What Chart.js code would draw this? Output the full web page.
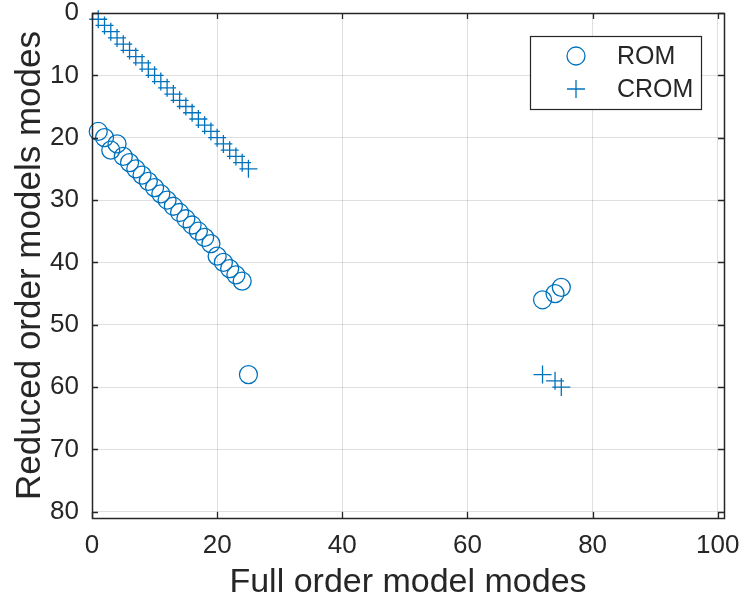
<!DOCTYPE html>
<html>
<head>
<meta charset="utf-8">
<script src="https://cdn.jsdelivr.net/npm/chart.js@4/dist/chart.umd.min.js"></script>
<style>
  html, body { margin: 0; padding: 0; background: #ffffff; }
  #wrap { width: 740px; height: 607px; }
</style>
</head>
<body>
<div id="wrap"><canvas id="c" width="740" height="607"></canvas></div>
<script>
// Mode indices: full order model (x) vs reduced order model (y)
const romX = [1, 2, 3, 4, 5, 6, 7, 8, 9, 10, 11, 12, 13, 14, 15, 16, 17, 18, 19, 20, 21, 22, 23, 24, 25, 72, 74, 75];
const romY = [19, 20, 22, 21, 23, 24, 25, 26, 27, 28, 29, 30, 31, 32, 33, 34, 35, 36, 37, 39, 40, 41, 42, 43, 58, 46, 45, 44];
const cromX = [1, 2, 3, 4, 5, 6, 7, 8, 9, 10, 11, 12, 13, 14, 15, 16, 17, 18, 19, 20, 21, 22, 23, 24, 25, 72, 74, 75];
const cromY = [1, 2, 3, 4, 5, 6, 7, 8, 9, 10, 11, 12, 13, 14, 15, 16, 17, 18, 19, 20, 21, 22, 23, 24, 25, 58, 59, 60];
const seriesNames = ['ROM', 'CROM'];
const xTicks = [0, 20, 40, 60, 80, 100];
const yTicks = [0, 10, 20, 30, 40, 50, 60, 70, 80];

const BLUE = '#0072BD';
const INK = '#262626';
const FONT = '"Liberation Sans", Arial, Helvetica, sans-serif';

const toPoints = (xs, ys) => xs.map((x, i) => ({ x: x, y: ys[i] }));

// Box around the axes with inward tick marks on all four sides
const framePlugin = {
  id: 'frame',
  afterDatasetsDraw(chart) {
    const { ctx, chartArea: a, scales } = chart;
    const len = 6;
    ctx.save();
    ctx.strokeStyle = INK;
    ctx.lineWidth = 1.3;
    ctx.beginPath();
    scales.x.ticks.forEach(t => {
      const px = Math.round(scales.x.getPixelForValue(t.value)) + 0.5;
      ctx.moveTo(px, a.bottom); ctx.lineTo(px, a.bottom - len);
      ctx.moveTo(px, a.top); ctx.lineTo(px, a.top + len);
    });
    scales.y.ticks.forEach(t => {
      const py = Math.round(scales.y.getPixelForValue(t.value)) + 0.5;
      ctx.moveTo(a.left, py); ctx.lineTo(a.left + len, py);
      ctx.moveTo(a.right, py); ctx.lineTo(a.right - len, py);
    });
    ctx.stroke();
    ctx.lineWidth = 1.5;
    ctx.strokeRect(Math.round(a.left) + 0.5, Math.round(a.top) + 0.5,
                   Math.round(a.right - a.left), Math.round(a.bottom - a.top));
    ctx.restore();
  }
};

// Boxed legend in the upper right corner of the axes
const boxLegendPlugin = {
  id: 'boxLegend',
  afterDraw(chart) {
    const { ctx, chartArea: a } = chart;
    const w = 171, h = 73;
    const x0 = a.right - 23 - w, y0 = a.top + 23;
    ctx.save();
    ctx.fillStyle = '#ffffff';
    ctx.fillRect(x0, y0, w, h);
    ctx.strokeStyle = INK;
    ctx.lineWidth = 1.2;
    ctx.strokeRect(Math.round(x0) + 0.5, Math.round(y0) + 0.5, w, h);
    ctx.font = '25px ' + FONT;
    ctx.textBaseline = 'middle';
    ctx.textAlign = 'left';
    chart.data.datasets.forEach((ds, i) => {
      const cy = y0 + 20 + i * 33;
      const mx = x0 + 46;
      ctx.strokeStyle = BLUE;
      ctx.lineWidth = 1.3;
      ctx.beginPath();
      if (ds.pointStyle === 'circle') {
        ctx.arc(mx, cy, 9, 0, Math.PI * 2);
      } else {
        ctx.moveTo(mx - 9, cy); ctx.lineTo(mx + 9, cy);
        ctx.moveTo(mx, cy - 9); ctx.lineTo(mx, cy + 9);
      }
      ctx.stroke();
      ctx.fillStyle = INK;
      ctx.fillText(ds.label, x0 + 87, cy + 1);
    });
    ctx.restore();
  }
};

new Chart(document.getElementById('c'), {
  type: 'scatter',
  data: {
    datasets: [
      {
        label: seriesNames[0],
        data: toPoints(romX, romY),
        pointStyle: 'circle',
        pointRadius: 9,
        pointHoverRadius: 9,
        borderWidth: 1.3,
        pointBorderWidth: 1.3,
        borderColor: BLUE,
        backgroundColor: 'rgba(0,0,0,0)',
        showLine: false,
        clip: false
      },
      {
        label: seriesNames[1],
        data: toPoints(cromX, cromY),
        pointStyle: 'cross',
        pointRadius: 9,
        pointHoverRadius: 9,
        borderWidth: 1.3,
        pointBorderWidth: 1.3,
        borderColor: BLUE,
        backgroundColor: 'rgba(0,0,0,0)',
        showLine: false,
        clip: false
      }
    ]
  },
  options: {
    responsive: false,
    animation: false,
    events: [],
    layout: { padding: { top: 13, right: 16, left: 0, bottom: 0 } },
    plugins: {
      legend: { display: false },
      tooltip: { enabled: false }
    },
    scales: {
      x: {
        type: 'linear',
        min: 0,
        max: 101,
        afterBuildTicks: s => { s.ticks = xTicks.map(v => ({ value: v })); },
        afterFit: s => { s.height = 89; s.paddingLeft = 0; s.paddingRight = 0; },
        border: { display: false },
        grid: { color: 'rgba(38,38,38,0.15)', lineWidth: 1, drawTicks: false },
        ticks: {
          color: INK,
          padding: 12,
          maxRotation: 0,
          font: { family: FONT, size: 26 },
          callback: v => String(v)
        },
        title: {
          display: true,
          text: 'Full order model modes',
          color: INK,
          font: { family: FONT, size: 34 },
          padding: { top: 0, bottom: 4 }
        }
      },
      y: {
        type: 'linear',
        reverse: true,
        min: 0,
        max: 81,
        afterBuildTicks: s => { s.ticks = yTicks.map(v => ({ value: v })); },
        afterFit: s => { s.width = 92; s.paddingTop = 0; s.paddingBottom = 0; },
        border: { display: false },
        grid: { color: 'rgba(38,38,38,0.15)', lineWidth: 1, drawTicks: false },
        ticks: {
          color: INK,
          padding: 13,
          font: { family: FONT, size: 26 },
          callback: v => String(v)
        },
        title: {
          display: true,
          text: 'Reduced order models modes',
          color: INK,
          font: { family: FONT, size: 35 },
          padding: { top: 9, bottom: 0 }
        }
      }
    }
  },
  plugins: [framePlugin, boxLegendPlugin]
});
</script>
</body>
</html>
